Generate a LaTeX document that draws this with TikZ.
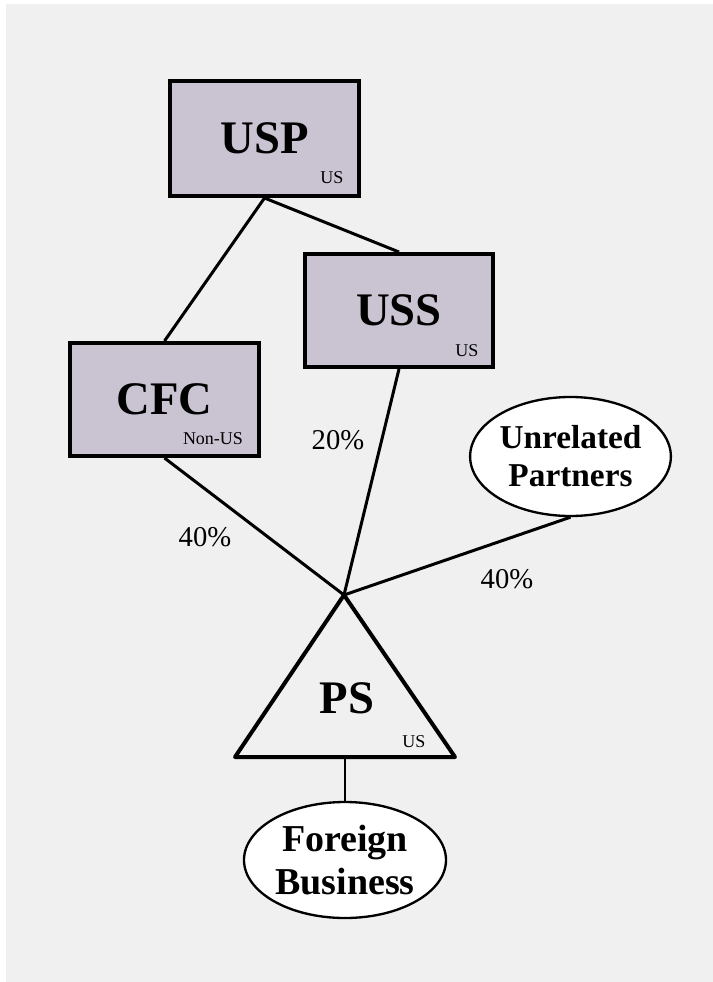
\documentclass[tikz,border=0pt]{standalone}
\usepackage{fontspec}
\setmainfont{Liberation Serif}
\usetikzlibrary{shapes.geometric}
\definecolor{pagebg}{RGB}{240,240,240}
\definecolor{boxfill}{RGB}{201,195,210}
\newcommand{\fsz}[2]{\fontsize{#1}{#2}\selectfont}
\tikzset{
  entity/.style={draw=black, line width=3pt, fill=boxfill, rectangle,
    minimum width=141.5pt, inner sep=0pt, font=\fsz{35}{42}\bfseries},
  party/.style={draw=black, line width=1.75pt, fill=white, ellipse,
    inner sep=0pt, align=center},
  tag/.style={inner sep=0pt, font=\fsz{13.5}{15}},
  share/.style={inner sep=0pt, font=\fsz{21.5}{25}},
  link/.style={line width=2.25pt},
  thinlink/.style={line width=1.5pt},
}
\begin{document}
\begin{tikzpicture}[x=0.75pt, y=-0.75pt]
  \useasboundingbox (0,0) rectangle (713,982);
  \fill[pagebg] (6,4) rectangle (713,982);

  % corporate entities
  \node[entity, minimum height=86.25pt] (usp) at (264.5,138.5) {USP};
  \node[entity, minimum height=84.75pt, minimum width=141pt] (uss) at (399,310.5) {USS};
  \node[entity, minimum height=84.75pt] (cfc) at (164.5,399.5) {CFC};
  \node[tag] (usptag) at (332,178) {US};
  \node[tag] (usstag) at (467,351) {US};
  \node[tag] (cfctag) at (213,439) {Non-US};

  % partnership
  \coordinate (apex) at (344,595);
  \coordinate (psleft) at (235,757);
  \coordinate (psright) at (455,757);
  \coordinate (psbase) at (345,757);
  \draw[line width=3pt, line join=round] (apex) -- (psleft) -- (psright) -- cycle;
  \node[inner sep=0pt, font=\fsz{35}{42}\bfseries] (ps) at (347,698) {PS};
  \node[tag] (pstag) at (414,742) {US};

  % outside parties
  \node[party, minimum width=147.75pt, minimum height=89.25pt,
        font=\fsz{25}{28.5}\bfseries] (partners) at (570.5,456.5) {Unrelated\\Partners};
  \node[party, minimum width=151.5pt, minimum height=87pt,
        font=\fsz{28.5}{32}\bfseries] (foreign) at (345,860) {Foreign\\Business};

  % ownership links
  \draw[link] (usp.south) -- (cfc.north);
  \draw[link] (usp.south) -- (uss.north);
  \draw[link] (cfc.south) -- (apex);
  \draw[link] (uss.south) -- (apex);
  \draw[link] (partners.south) -- (apex);
  \draw[thinlink] (psbase) -- (foreign.north);

  % ownership shares
  \node[share] (pct1) at (338,440) {20\%};
  \node[share] (pct2) at (205,537) {40\%};
  \node[share] (pct3) at (507,579) {40\%};
\end{tikzpicture}
\end{document}
